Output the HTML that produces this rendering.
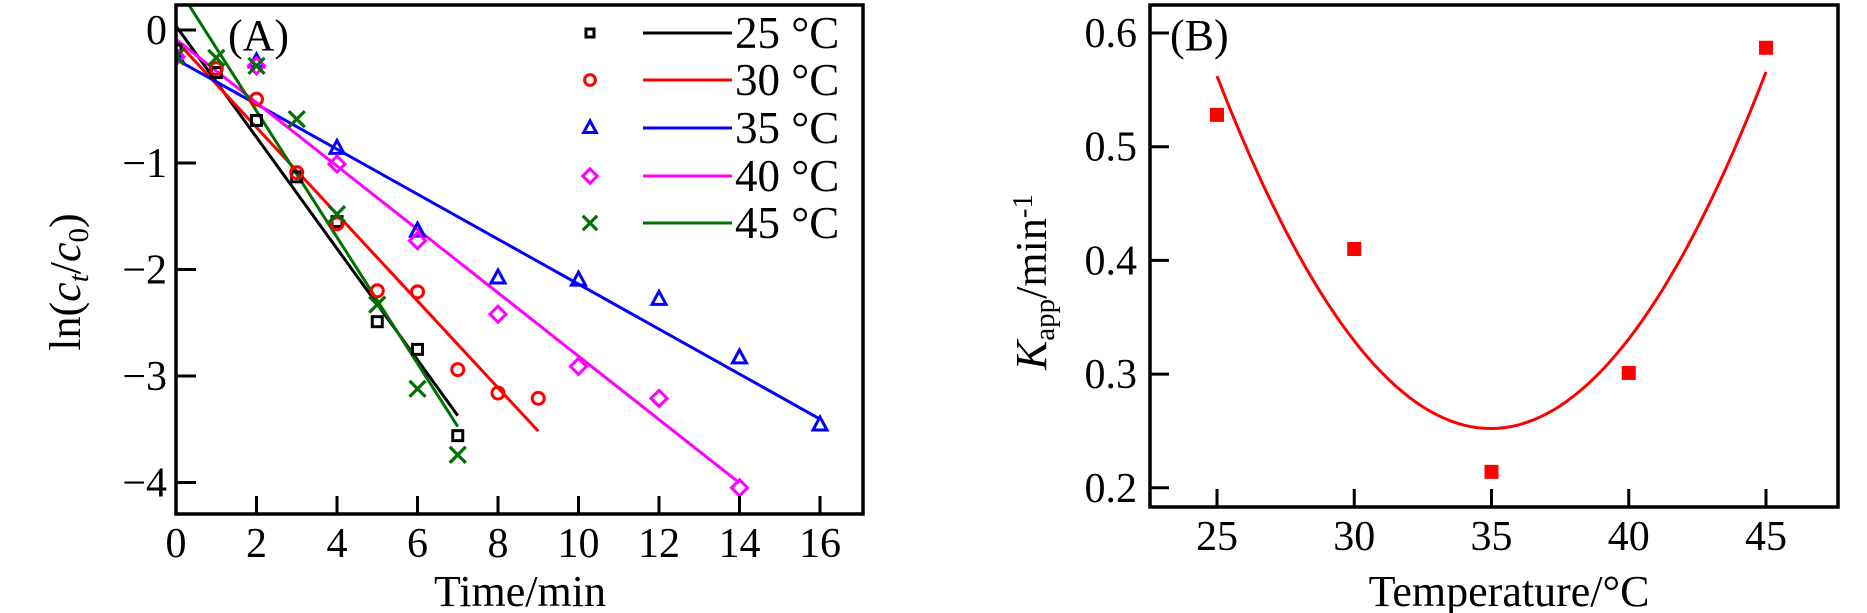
<!DOCTYPE html>
<html><head><meta charset="utf-8">
<style>
html,body{margin:0;padding:0;background:#fff;}
svg{display:block;}
svg text, svg tspan{font-family:"Liberation Serif","Times New Roman",serif !important;}
</style></head>
<body>
<svg id="fig" width="1867" height="613" viewBox="0 0 1867 613" xmlns="http://www.w3.org/2000/svg" font-family="Liberation Serif, serif">
<g id="panelA"></g>
<g id="panelB"></g>
</svg>
<script>
// ---------- Panel A data ----------
const aSeriesNames = ["25 °C","30 °C","35 °C","40 °C","45 °C"];
const aColors = ["#000000","#ff0000","#0000ff","#ff00ff","#007000"];
const aShapes = ["square","circle","triangle","diamond","cross"];
const t25 = [0,1,2,3,4,5,6,7];
const v25 = [-0.15,-0.32,-0.68,-1.13,-1.55,-2.49,-2.75,-3.56];
const t30 = [0,1,2,3,4,5,6,7,8,9];
const v30 = [-0.2,-0.29,-0.52,-1.09,-1.57,-2.2,-2.21,-2.94,-3.16,-3.21];
const t35 = [0,2,4,6,8,10,12,14,16];
const v35 = [-0.2,-0.24,-0.89,-1.64,-2.08,-2.1,-2.28,-2.83,-3.46];
const t40 = [0,2,4,6,8,10,12,14];
const v40 = [-0.2,-0.27,-1.01,-1.73,-2.42,-2.91,-3.21,-4.05];
const t45 = [0,1,2,3,4,5,6,7];
const v45 = [-0.2,-0.21,-0.27,-0.67,-1.48,-2.33,-3.12,-3.74];
const fitIntercept = [0.03,-0.08,-0.22,-0.07,0.34];
const fitSlope = [-0.486,-0.382,-0.199,-0.281,-0.545];
const fitEnd = [7,9,16,14,7];
const aXTicks = [0,2,4,6,8,10,12,14,16];
const aYTicks = [0,-1,-2,-3,-4];
const aYTickLabels = ["0","\u22121","\u22122","\u22123","\u22124"];

// ---------- Panel B data ----------
const bTemps = [25,30,35,40,45];
const bK = [0.528,0.41,0.214,0.301,0.587];
const bXTicks = [25,30,35,40,45];
const bYTicks = [0.2,0.3,0.4,0.5,0.6];
const bYTickLabels = ["0.2","0.3","0.4","0.5","0.6"];

const NS = "http://www.w3.org/2000/svg";
function mk(tag, attrs, parent){
  const e = document.createElementNS(NS, tag);
  for (const k in attrs) e.setAttribute(k, attrs[k]);
  parent.appendChild(e); return e;
}

// ---------- Panel A ----------
const A = document.getElementById('panelA');
const aL=176, aR=863, aT=5, aB=514;
function ax(t){ return 176 + t*40.25; }
function ay(v){ return v >= -1 ? 30 - v*133 : 163 + (-1 - v)*106.5; }

const clipA = mk('clipPath',{id:'clipA'},A);
mk('rect',{x:aL,y:aT,width:aR-aL,height:aB-aT},clipA);

const plotA = mk('g',{'clip-path':'url(#clipA)'},A);
const aT_all=[t25,t30,t35,t40,t45], aV_all=[v25,v30,v35,v40,v45];
for(let i=0;i<5;i++){
  const t0 = 0;
  const ln = mk('line',{x1:ax(t0),y1:ay(fitIntercept[i]+fitSlope[i]*t0),x2:ax(fitEnd[i]),y2:ay(fitIntercept[i]+fitSlope[i]*fitEnd[i]),stroke:aColors[i],'stroke-width':3},plotA);
  
  
}
function marker(shape,x,y,color,parent,s){
  let e;
  s = s||1;
  if(shape==='square') e=mk('rect',{x:x-5*s,y:y-5*s,width:10*s,height:10*s,fill:'none',stroke:color,'stroke-width':3},parent);
  else if(shape==='circle') e=mk('circle',{cx:x,cy:y,r:6*s,fill:'none',stroke:color,'stroke-width':3},parent);
  else if(shape==='triangle') e=mk('polygon',{points:`${x},${y-8*s} ${x-7*s},${y+5*s} ${x+7*s},${y+5*s}`,fill:'none',stroke:color,'stroke-width':3},parent);
  else if(shape==='diamond') e=mk('polygon',{points:`${x},${y-8*s} ${x+8*s},${y} ${x},${y+8*s} ${x-8*s},${y}`,fill:'none',stroke:color,'stroke-width':3},parent);
  else e=mk('path',{d:`M${x-8*s},${y-8*s}L${x+8*s},${y+8*s}M${x-8*s},${y+8*s}L${x+8*s},${y-8*s}`,fill:'none',stroke:color,'stroke-width':3.2},parent);
  return e;
}
for(let i=0;i<5;i++){
  const g = mk('g',{},plotA);
  
  
  aT_all[i].forEach((t,j)=>{
    const m = marker(aShapes[i],ax(t),ay(aV_all[i][j]),aColors[i],g);
    
    
  });
}
const boxA = mk('rect',{x:aL,y:aT,width:aR-aL,height:aB-aT,fill:'none',stroke:'#000','stroke-width':3.5},A);


aXTicks.forEach(t=>{
  mk('line',{x1:ax(t),y1:aB,x2:ax(t),y2:aB-18,stroke:'#000','stroke-width':3},A);
  const tx = mk('text',{x:ax(t),y:557,'font-size':42,'text-anchor':'middle'},A);
  tx.textContent = t;
  
  
});
aYTicks.forEach((v,i)=>{
  mk('line',{x1:aL,y1:ay(v),x2:aL+20,y2:ay(v),stroke:'#000','stroke-width':3},A);
  const tx = mk('text',{x:167,y:ay(v)+14,'font-size':42,'text-anchor':'end'},A);
  tx.textContent = aYTickLabels[i];
  
  
});
</script>
<script>
(function(){
const A=document.getElementById('panelA');
A.insertAdjacentHTML('beforeend',
 '<text x="520" y="606" font-size="44" text-anchor="middle">Time/min</text>'+
 '<text transform="translate(80,282) rotate(-90)" font-size="44" text-anchor="middle">ln(<tspan font-style="italic">c</tspan><tspan font-style="italic" font-size="29" dy="8">t</tspan><tspan dy="-8">/</tspan><tspan font-style="italic">c</tspan><tspan font-size="29" dy="8">0</tspan><tspan dy="-8">)</tspan></text>'+
 '<text x="228" y="50" font-size="44">(A)</text>');
})();
(function(){
const A=document.getElementById('panelA');
const leg = mk('g',{},A);


const rows=[33,80,128,176,223];
for(let i=0;i<5;i++){
  const g=mk('g',{},leg);
  
  
  marker(aShapes[i],590,rows[i],aColors[i],g,i===0?0.8:0.9);
  mk('line',{x1:643,y1:rows[i],x2:732,y2:rows[i],stroke:aColors[i],'stroke-width':3},g);
  const t=mk('text',{x:735,y:rows[i]+15,'font-size':45},g);
  t.textContent=aSeriesNames[i];
}
})();
</script>
<script>
(function(){
const B=document.getElementById('panelB');
const bL=1150,bR=1838,bT=5,bB=507;
function bx(T){ return 1217 + (T-25)*27.45; }
function by(k){ return 33 + (0.6-k)*1137; }
const n=bTemps.length;
const xs=bTemps.map(T=>T-35);
let S0=n,S2=0,S4=0,Sy=0,Sxy=0,Sx2y=0,S1=0,S3=0;
xs.forEach((x,i)=>{S1+=x;S2+=x*x;S3+=x*x*x;S4+=x**4;Sy+=bK[i];Sxy+=x*bK[i];Sx2y+=x*x*bK[i];});
const M=[[S4,S3,S2,Sx2y],[S3,S2,S1,Sxy],[S2,S1,S0,Sy]];
for(let c=0;c<3;c++){for(let r=c+1;r<3;r++){const f=M[r][c]/M[c][c];for(let k=c;k<4;k++)M[r][k]-=f*M[c][k];}}
const sol=[0,0,0];
for(let r=2;r>=0;r--){let s=M[r][3];for(let k=r+1;k<3;k++)s-=M[r][k]*sol[k];sol[r]=s/M[r][r];}
let d='';
for(let T=25;T<=45.001;T+=0.25){const x=T-35;const y=sol[0]*x*x+sol[1]*x+sol[2];d+=(d?'L':'M')+bx(T).toFixed(1)+','+by(y).toFixed(1);}
const curve=mk('path',{d:d,fill:'none',stroke:'#ff0000','stroke-width':3},B);


bTemps.forEach((T,i)=>{
  const r=mk('rect',{x:bx(T)-7,y:by(bK[i])-7,width:14,height:14,fill:'#ff0000'},B);
  
  
});
const box=mk('rect',{x:bL,y:bT,width:bR-bL,height:bB-bT,fill:'none',stroke:'#000','stroke-width':3.5},B);


bXTicks.forEach(T=>{
  mk('line',{x1:bx(T),y1:bB,x2:bx(T),y2:bB-18,stroke:'#000','stroke-width':3},B);
  const t=mk('text',{x:bx(T),y:550,'font-size':42,'text-anchor':'middle'},B);
  t.textContent=T;
  
  
});
bYTicks.forEach((k,i)=>{
  mk('line',{x1:bL,y1:by(k),x2:bL+19,y2:by(k),stroke:'#000','stroke-width':3},B);
  const t=mk('text',{x:1137,y:by(k)+14,'font-size':42,'text-anchor':'end'},B);
  t.textContent=bYTickLabels[i];
  
  
});
B.insertAdjacentHTML('beforeend',
 '<text x="1509" y="606" font-size="44" text-anchor="middle">Temperature/°C</text>'+
 '<text transform="translate(1046,282) rotate(-90)" font-size="44" text-anchor="middle"><tspan font-style="italic">K</tspan><tspan font-size="29" dy="8">app</tspan><tspan dy="-8">/min</tspan><tspan font-size="29" dy="-14">-1</tspan></text>'+
 '<text x="1170" y="50" font-size="44">(B)</text>');
})();
</script>
</body></html>
